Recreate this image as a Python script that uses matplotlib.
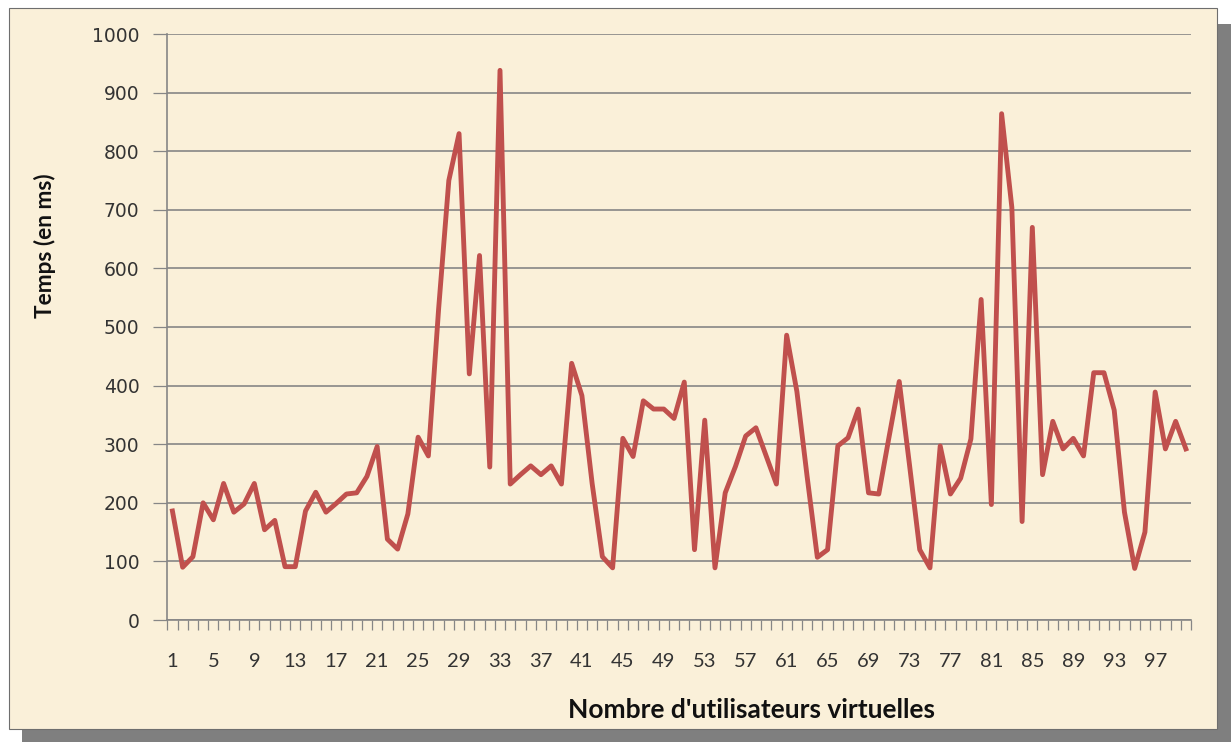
import numpy as np
import matplotlib
matplotlib.use("Agg")
import matplotlib.pyplot as plt
from matplotlib.patches import Rectangle

# response time (ms) per number of virtual users
users = list(range(1, 101))
temps = [186, 90, 108, 200, 171, 233, 184, 198, 233, 154,
         170, 91, 91, 186, 218, 184, 199, 215, 217, 245,
         296, 138, 121, 181, 312, 280, 530, 750, 830, 420,
         622, 261, 938, 232, 248, 263, 248, 263, 232, 438,
         383, 233, 108, 89, 310, 279, 374, 360, 360, 344,
         406, 120, 341, 89, 217, 262, 314, 328, 280, 232,
         486, 390, 245, 107, 120, 297, 311, 360, 217, 215,
         312, 407, 265, 120, 89, 297, 215, 242, 309, 547,
         197, 864, 704, 168, 670, 248, 339, 292, 310, 280,
         422, 422, 358, 184, 88, 150, 389, 292, 339, 292]
xtick_labels = list(range(1, 98, 4))

W, H = 1231, 742
C_LINE = "#C0504D"
C_PAPER = "#FAF0D9"
C_GRID = "#868686"


def fr(x0, y0, x1, y1):
    """pixel box (top-left origin) -> figure fraction rect"""
    return (x0 / W, 1 - y1 / H, (x1 - x0) / W, (y1 - y0) / H)


fig = plt.figure(figsize=(W / 100, H / 100), dpi=100, facecolor="white")

# drop shadow + paper panel (below the axes)
x, y, w, h = fr(22, 24, 1231, 742)
fig.patches.append(Rectangle((x, y), w, h, transform=fig.transFigure,
                             facecolor="#7F7F7F", edgecolor="none", zorder=-10))
x, y, w, h = fr(9, 8, 1217, 729)
fig.patches.append(Rectangle((x, y), w, h, transform=fig.transFigure,
                             facecolor=C_PAPER, edgecolor="#6E6E6E", lw=0.8, zorder=-9))

ax = fig.add_axes(fr(167.3, 34, 1191, 620))
ax.set_facecolor("none")

ax.plot(users, temps, color=C_LINE, lw=3.5, solid_joinstyle="round", zorder=3)

ax.set_xlim(0.5, 100.5)
ax.set_ylim(0, 1000)
ax.set_yticks(range(0, 1001, 100))
ax.set_xticks(xtick_labels)
ax.set_xticklabels([str(v) for v in xtick_labels], fontfamily="Lato",
                   fontsize=14.5, color="#333333")
ax.set_xticks(np.arange(0.5, 101, 1), minor=True)
ax.tick_params(axis="x", which="major", length=0, pad=24)
ax.tick_params(axis="x", which="minor", length=7, width=0.9, color=C_GRID, direction="out")
ax.tick_params(axis="y", length=10, width=0.9, color=C_GRID, pad=10)
for lab in ax.get_yticklabels():
    lab.set_fontfamily("DejaVu Sans")
    lab.set_fontsize(13.5)
    lab.set_color("#333333")

ax.grid(axis="y", color=C_GRID, lw=1.2)
ax.set_axisbelow(True)
for s in ["top", "right"]:
    ax.spines[s].set_visible(False)
for s in ["left", "bottom"]:
    ax.spines[s].set_color(C_GRID)
    ax.spines[s].set_linewidth(1.2)

fig.text(45 / W, 1 - 246 / H, "Temps (en ms)", rotation=90, ha="center", va="center",
         fontfamily="Lato", fontweight="bold", fontsize=16.3, color="#111111")
fig.text(751 / W, 1 - 710 / H, "Nombre d'utilisateurs virtuelles", ha="center", va="center",
         fontfamily="Lato", fontweight="bold", fontsize=19, color="#111111")

fig.savefig("out.png", dpi=100, facecolor="white")
